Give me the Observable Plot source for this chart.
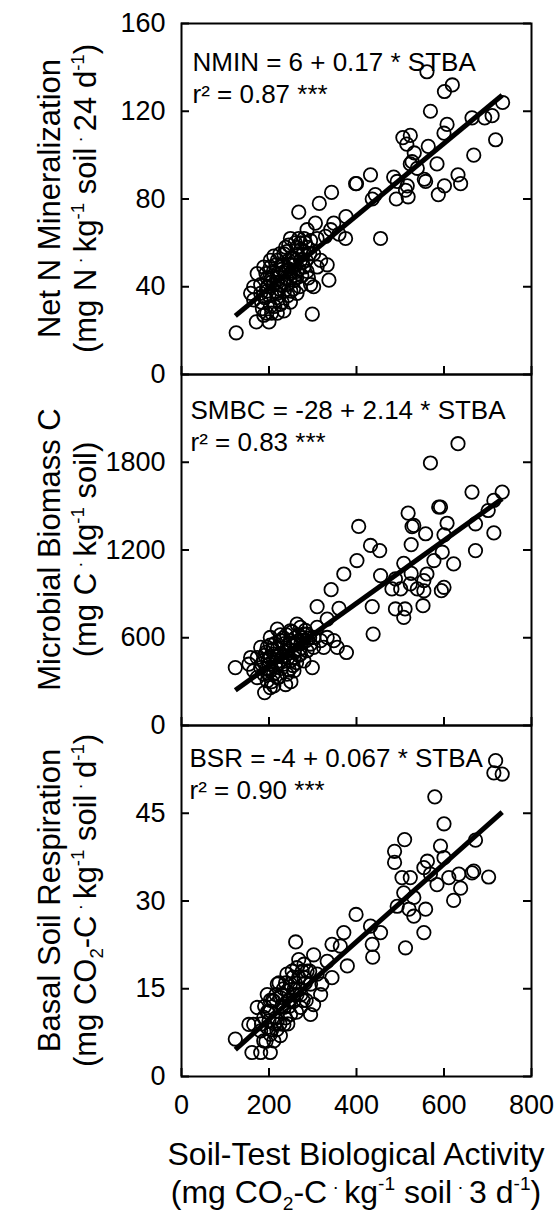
<!DOCTYPE html>
<html>
<head>
<meta charset="utf-8">
<script src="https://cdn.jsdelivr.net/npm/d3@7"></script>
<script src="https://cdn.jsdelivr.net/npm/@observablehq/plot@0.6"></script>
<style>
html, body { margin: 0; padding: 0; background: #fff; }
#chart { position: relative; width: 555px; height: 1214px; }
#chart svg { display: block; overflow: visible; }
</style>
</head>
<body>
<div id="chart"></div>
<script>
// ---------- data ----------
const xTicks = [0, 200, 400, 600, 800];

// Panel 1: Net N mineralization vs STBA
const stbaN = [561,619,601,569,734,710,664,693,607,600,506,523,515,564,718,532,527,523,584,668,539,558,555,632,638,601,587,485,493,516,512,491,518,432,398,400,443,436,343,315,268,455,376,348,360,375,
  287,306,341,329,310,280,249,264,234,203,318,333,310,287,295,302,337,264,249,234,299,219,188,171,200,125,158,165,181,196,203,219,226,241,257,264,272,249,280,295,241,211,188,173,165,181,196,211,226,219,234,257,272,287,302,219,203,249,
  190,205,215,230,245,255,265,275,285,230,240,210,200,220,250,260,270,225,185,195,235,245,280,290,
  198,208,218,228,238,248,258,268,278,213,223,233,243,253,263,273,283,293,183,193,203,238,268,206,226,246,256,276,196,216];
const nmin = [138,132,129,120,124,118,117,117,114,110,108,109,105,104,107,101,97,96,96,100,94,88,89,91,87,86,82,90,88,86,84,80,81,91,87,87,82,80,83,78,74,62,72,69,64,62,
  66,69,66,63,62,62,62,58,55,52,52,50,49,47,41,40,43,37,33,29,27.5,28,27,24,24,19,37,34,41,44,49,52,46,41,43,47,52,50,56,61,56,54,49,46,40,37,40,41,41,46,50,53,60,58,55,37,31,46,
  35,42,38,48,52,47,55,45,52,33,44,47,36,42,38,60,40,55,30,28,38,59,49,44,
  40,45,35,50,47,43,50,48,55,31,39,42,36,53,44,57,60,55,33,46,43,58,62,28,32,48,39,51,38,50];
const fitNX = [123, 733];
const fitNY = [26.7, 127.3];
const yTicksN = [0, 40, 80, 120, 160];

// Panel 2: Microbial biomass C vs STBA
const stbaC = [632,569,664,733,714,701,672,714,672,588,592,518,531,527,558,607,600,596,525,405,432,453,401,371,342,310,360,333,455,436,438,508,489,501,523,539,554,561,577,554,489,508,511,552,600,594,622,481,377,299,123,154,190,525,
  219,264,310,333,348,356,325,302,280,249,203,196,173,181,203,226,241,264,287,280,257,219,196,211,241,188,165,158,226,249,272,295,318,234,188,211,226,249,257,203,173,203,287,272,302,181,
  215,230,245,260,200,190,235,270,255,220,240,285,210,195,250,
  198,208,218,228,238,248,258,268,278,213,223,233,243,253,263,273,283,293,183,193,203,238,268,206,226,246,256,276,196,216];
const smbc = [1927,1795,1596,1596,1539,1470,1379,1317,1196,1494,1494,1452,1368,1360,1311,1383,1304,1185,1237,1361,1231,1196,1128,1036,929,813,801,728,1025,813,625,1109,1002,934,968,934,991,1036,1128,921,797,739,797,819,945,922,1105,934,499,396,396,419,225,1040,
  659,693,671,602,580,534,534,602,625,648,602,534,465,396,374,442,511,557,511,442,465,328,305,271,351,351,374,465,580,580,488,557,580,419,442,488,488,442,374,465,328,259,625,671,534,534,
  400,470,520,600,420,480,560,520,410,530,620,580,350,390,300,
  450,520,470,390,500,560,510,620,580,560,330,600,460,640,430,560,650,600,420,500,550,280,480,300,620,380,560,600,360,430];
const fitCX = [123, 733];
const fitCY = [241, 1551];
const yTicksC = [0, 600, 1200, 1800];

// Panel 3: Basal soil respiration vs STBA
const stbaR = [718,714,733,579,600,510,487,487,592,562,600,672,668,702,664,554,504,523,611,634,638,622,584,569,508,531,493,520,531,558,554,512,399,432,455,436,437,371,344,363,379,261,302,333,344,321,
  123,161,181,203,154,196,173,264,287,295,302,295,264,241,234,219,203,181,188,211,203,226,249,280,257,272,188,165,219,241,280,310,318,234,249,211,196,
  215,230,245,260,270,200,190,225,255,285,
  198,208,218,228,238,248,258,268,278,213,223,233,243,253,263,273,283,293,183,193,203,238,268,206,226,246,256,276,196,216];
const bsr = [54,51.9,51.7,47.8,43.2,40.5,38.5,36.6,39.4,36.8,37.4,40.4,35.1,34.1,34.8,35.7,34,34,34,34.6,32.2,30.1,32.8,34.6,31.4,30.6,29.1,28.6,27.4,28.6,24.6,22,27.7,25.7,24.6,22.6,20.4,24.6,22.6,22.3,18.9,23,20.8,19.7,16.9,15.8,
  6.4,4.1,4.1,4.1,8.9,14,11.8,18.6,18,15.8,12.3,10.6,14,14.6,11.8,9.5,7.2,7.8,6.1,6.1,11.2,13.5,15.8,16.9,12.9,11.8,10.1,8.9,15.8,17.5,19.2,17.5,14,8.9,10.6,12.9,8.4,
  10,12,13,16,15,9.5,12,9,17,13,
  11,13,8,14,10,13,15,17,13,9,16,15,9,18,11,14,16,18,9,6,13,16,20,8,7,12,14,18,11,14];
const fitRX = [123, 733];
const fitRY = [4.6, 45.2];
const yTicksR = [0, 15, 30, 45];

// ---------- text ----------
const eqN = ["NMIN = 6 + 0.17 * STBA", "r² = 0.87 ***"];
const eqC = ["SMBC = -28 + 2.14 * STBA", "r² = 0.83 ***"];
const eqR = ["BSR = -4 + 0.067 * STBA", "r² = 0.90 ***"];
const titleN = [[["Net N Mineralization","n"]], [["(mg N","n"],[" · ","dot"],["kg","n"],["-1","sup"],[" soil","n"],[" · ","dot"],["24 d","n"],["-1","sup"],[")","n"]]];
const titleC = [[["Microbial Biomass C","n"]], [["(mg C","n"],[" · ","dot"],["kg","n"],["-1","sup"],[" soil)","n"]]];
const titleR = [[["Basal Soil Respiration","n"]], [["(mg CO","n"],["2","sub"],["-C","n"],[" · ","dot"],["kg","n"],["-1","sup"],[" soil","n"],[" · ","dot"],["d","n"],["-1","sup"],[")","n"]]];
const titleX = [[["Soil-Test Biological Activity","n"]], [["(mg CO","n"],["2","sub"],["-C","n"],[" · ","dot"],["kg","n"],["-1","sup"],[" soil","n"],[" · ","dot"],["3 d","n"],["-1","sup"],[")","n"]]];

// ---------- layout ----------
const W = 555, ML = 181, MR = 24, PH = 351;
const FONT = "'Liberation Sans', Arial, Helvetica, sans-serif";
const TICKFS = 27, EQFS = 26, TITLEFS = 31, XTITLEFS = 32;

function rich(textSel, parts, fs) {
  let cur = 0;
  for (const [t, k] of parts) {
    const off = k === "sup" ? -0.4 * fs : k === "sub" ? 0.22 * fs : k === "dot" ? -0.32 * fs : 0;
    const size = k === "n" ? fs : 0.6 * fs;
    textSel.append("tspan").attr("dy", off - cur).attr("font-size", size).text(t);
    cur = off;
  }
}

function panel({xs, ys, fitX, fitY, yDomain, yTicks, eq, eqDx, eqDy, marginTop, marginBottom, showX}) {
  const pts = xs.map((x, i) => ({x, y: ys[i]}));
  const fit = fitX.map((x, i) => ({x, y: fitY[i]}));
  const tick = 8;
  return Plot.plot({
    width: W,
    height: PH + marginTop + marginBottom,
    marginLeft: ML, marginRight: MR, marginTop, marginBottom,
    style: {fontFamily: FONT, fontSize: TICKFS + "px", color: "#000", background: "transparent", overflow: "visible"},
    x: {domain: [0, 800], ticks: xTicks, tickSize: 0, tickPadding: 18, label: null, axis: showX ? "bottom" : null, tickFormat: d => String(d)},
    y: {domain: yDomain, ticks: yTicks, tickSize: 0, tickPadding: 16, label: null, tickFormat: d => String(d)},
    marks: [
      Plot.ruleY(yTicks, {y: d => d, insetRight: (W - ML - MR) - tick, stroke: "#000", strokeWidth: 2}),
      Plot.ruleY(yTicks, {y: d => d, insetLeft: (W - ML - MR) - tick, stroke: "#000", strokeWidth: 2}),
      Plot.ruleX(xTicks, {x: d => d, insetTop: PH - tick, stroke: "#000", strokeWidth: 2}),
      Plot.dot(pts, {x: "x", y: "y", r: 6.7, stroke: "#000", strokeWidth: 1.8, fill: "none"}),
      Plot.line(fit, {x: "x", y: "y", stroke: "#000", strokeWidth: 5, strokeLinecap: "butt"}),
      Plot.text([eq[0]], {frameAnchor: "top-left", textAnchor: "start", dx: eqDx, dy: eqDy, text: d => d, fontSize: EQFS, fill: "#000"}),
      Plot.text([eq[1]], {frameAnchor: "top-left", textAnchor: "start", dx: eqDx, dy: eqDy + 32, text: d => d, fontSize: EQFS, fill: "#000"}),
      Plot.frame({stroke: "#000", strokeWidth: 2})
    ]
  });
}

function addYTitle(svg, lines, cy) {
  const s = d3.select(svg);
  const xs = [60, 96];
  lines.forEach((parts, i) => {
    const t = s.append("text")
      .attr("transform", `translate(${xs[i]},${cy}) rotate(-90)`)
      .attr("text-anchor", "middle")
      .attr("font-family", FONT)
      .attr("font-size", TITLEFS)
      .attr("fill", "#000");
    rich(t, parts, TITLEFS);
  });
}

const chart = document.getElementById("chart");

const p1 = panel({xs: stbaN, ys: nmin, fitX: fitNX, fitY: fitNY, yDomain: [0, 160], yTicks: yTicksN, eq: eqN, eqDx: 11, eqDy: 29, marginTop: 23, marginBottom: 0, showX: false});
addYTitle(p1, titleN, 23 + PH / 2);
chart.appendChild(p1);

const p2 = panel({xs: stbaC, ys: smbc, fitX: fitCX, fitY: fitCY, yDomain: [0, 2400], yTicks: yTicksC, eq: eqC, eqDx: 9, eqDy: 26, marginTop: 0, marginBottom: 0, showX: false});
addYTitle(p2, titleC, PH / 2);
chart.appendChild(p2);

const p3 = panel({xs: stbaR, ys: bsr, fitX: fitRX, fitY: fitRY, yDomain: [0, 60], yTicks: yTicksR, eq: eqR, eqDx: 8, eqDy: 23.5, marginTop: 0, marginBottom: 138, showX: true});
addYTitle(p3, titleR, PH / 2);
{
  const s = d3.select(p3);
  const cx = ML + (W - ML - MR) / 2;
  const ys = [440, 478];
  titleX.forEach((parts, i) => {
    const t = s.append("text")
      .attr("x", cx).attr("y", ys[i])
      .attr("text-anchor", "middle")
      .attr("font-family", FONT)
      .attr("font-size", XTITLEFS)
      .attr("fill", "#000");
    rich(t, parts, XTITLEFS);
  });
}
chart.appendChild(p3);
</script>
</body>
</html>
